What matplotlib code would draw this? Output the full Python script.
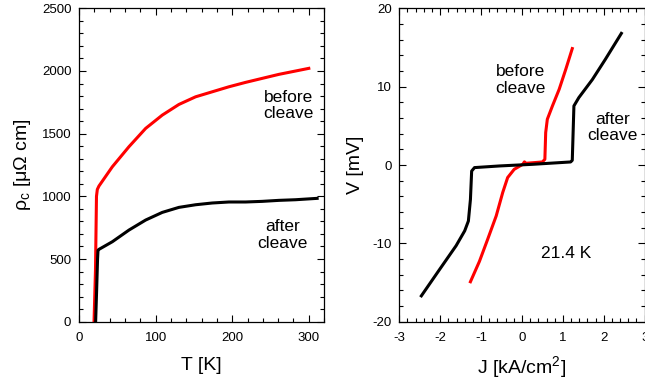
import matplotlib

matplotlib.use("Agg")
import matplotlib.pyplot as plt
from matplotlib.ticker import MultipleLocator

plt.rcParams["font.family"] = ["Liberation Sans", "DejaVu Sans"]
plt.rcParams["mathtext.fontset"] = "custom"
plt.rcParams["mathtext.rm"] = "Liberation Sans"
plt.rcParams["axes.unicode_minus"] = False

# rho_c(T)
T_BEFORE = [19.6, 21.5, 22.8, 23.9, 26.0, 43.5, 65.2, 87.0, 108.7, 130.4, 152.2, 173.9,
            195.7, 217.4, 239.1, 260.9, 300.0]
RHO_BEFORE = [0, 410, 1000, 1055, 1082, 1236, 1396, 1542, 1648, 1733, 1794, 1834,
              1874, 1909, 1941, 1973, 2021]
T_AFTER = [21.7, 23.0, 24.2, 24.8, 26.0, 43.5, 65.2, 87.0, 108.7, 130.4, 152.2, 173.9,
           195.7, 217.4, 239.1, 260.9, 282.6, 310.9]
RHO_AFTER = [0, 250, 500, 570, 577, 638, 731, 811, 872, 912, 933, 947,
             955, 955, 960, 968, 973, 984]

# V(J) at 21.4 K
J_BEFORE = [-1.26, -1.04, -0.84, -0.63, -0.47, -0.35, -0.19, 0.02, 0.06, 0.10, 0.50, 0.56,
            0.58, 0.62, 0.745, 0.91, 1.07, 1.23]
V_BEFORE = [-14.9, -12.3, -9.5, -6.5, -3.5, -1.6, -0.55, 0.09, 0.4, 0.22, 0.39, 0.73,
            4.14, 5.84, 7.54, 9.67, 12.2, 14.86]
J_AFTER = [-2.46, -2.01, -1.61, -1.40, -1.31, -1.26, -1.23, -1.16, -0.55, 0.26, 1.19, 1.23,
           1.27, 1.39, 1.72, 2.04, 2.43]
V_AFTER = [-16.7, -13.3, -10.3, -8.4, -7.15, -4.4, -0.77, -0.33, -0.12, 0.09, 0.39, 0.6,
           7.54, 8.6, 10.9, 13.5, 16.8]

RED = "#ff0000"


def style_axis(axis):
    axis.tick_params(which="both", direction="in", top=True, right=True, labelsize=9.5, width=0.8)
    axis.tick_params(axis="x", which="both", pad=7.5)
    axis.tick_params(axis="y", which="both", pad=5.5)
    axis.tick_params(which="major", length=5)
    axis.tick_params(which="minor", length=3)
    for spine in axis.spines.values():
        spine.set_linewidth(0.9)


fig = plt.figure(figsize=(6.45, 3.81), dpi=100)
left = fig.add_axes([0.1225, 0.1556, 0.380, 0.8226])
right = fig.add_axes([0.619, 0.1556, 0.3805, 0.8226])

left.plot(T_BEFORE, RHO_BEFORE, color=RED, lw=2.2, solid_joinstyle="round")
left.plot(T_AFTER, RHO_AFTER, color="black", lw=2.2, solid_joinstyle="round")
left.set_xlim(0, 320)
left.set_ylim(0, 2500)
left.xaxis.set_major_locator(MultipleLocator(100))
left.xaxis.set_minor_locator(MultipleLocator(20))
left.yaxis.set_major_locator(MultipleLocator(500))
left.yaxis.set_minor_locator(MultipleLocator(100))
left.set_xlabel("T [K]", fontsize=14, labelpad=9)
left.set_ylabel(r"$\mathregular{ρ_c}$ [μΩ cm]", fontsize=14, labelpad=6)
left.text(274, 1724, "before\ncleave", fontsize=12.5, ha="center", va="center", linespacing=1.15)
left.text(266, 691, "after\ncleave", fontsize=12.5, ha="center", va="center", linespacing=1.15)
style_axis(left)

right.plot(J_BEFORE, V_BEFORE, color=RED, lw=2.2, solid_joinstyle="round")
right.plot(J_AFTER, V_AFTER, color="black", lw=2.2, solid_joinstyle="round")
right.set_xlim(-3, 3)
right.set_ylim(-20, 20)
right.xaxis.set_major_locator(MultipleLocator(1))
right.xaxis.set_minor_locator(MultipleLocator(0.2))
right.yaxis.set_major_locator(MultipleLocator(10))
right.yaxis.set_minor_locator(MultipleLocator(2))
right.set_xlabel(r"J [kA/cm$\mathregular{^2}$]", fontsize=14, labelpad=7)
right.set_ylabel("V [mV]", fontsize=14, labelpad=6)
right.text(-0.04, 10.9, "before\ncleave", fontsize=12.5, ha="center", va="center", linespacing=1.15)
right.text(2.22, 4.8, "after\ncleave", fontsize=12.5, ha="center", va="center", linespacing=1.15)
right.text(1.08, -11.3, "21.4 K", fontsize=12.5, ha="center", va="center")
style_axis(right)

fig.savefig("out.png", dpi=100)
plt.close(fig)
